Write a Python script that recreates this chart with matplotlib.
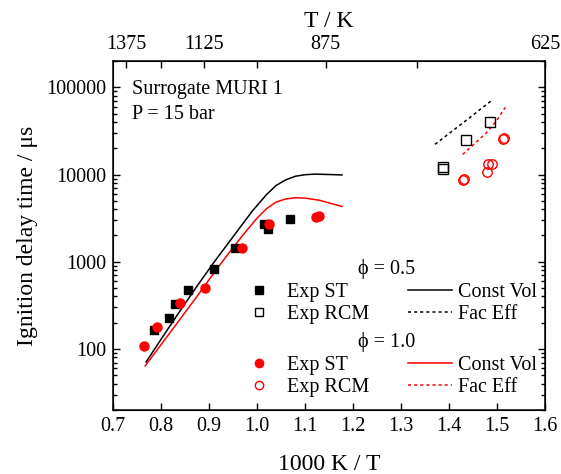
import matplotlib
matplotlib.use("Agg")
import matplotlib.pyplot as plt
from matplotlib.lines import Line2D

plt.rcParams['font.family'] = ['Liberation Serif', 'DejaVu Serif']
plt.rcParams['mathtext.fontset'] = 'stix'

# shock tube data, phi = 0.5  (1000/T, ignition delay in us)
st05_x = [0.786, 0.817, 0.829, 0.856, 0.911, 0.955, 1.015, 1.022, 1.068]
st05_y = [167, 228, 324, 474, 837, 1425, 2740, 2360, 3125]

# shock tube data, phi = 1.0
st10_x = [0.765, 0.792, 0.840, 0.892, 0.968, 1.026, 1.123, 1.130]
st10_y = [107, 181, 336, 497, 1425, 2700, 3270, 3330]

# RCM data
rcm05_x = [1.387, 1.388, 1.435, 1.486]
rcm05_y = [11500, 12200, 25100, 40500]
rcm10_x = [1.429, 1.432, 1.479, 1.482, 1.489, 1.513, 1.514]
rcm10_y = [8600, 8850, 10800, 13200, 13300, 25300, 26200]

# constant volume simulations
cv05_x = [0.769, 0.80, 0.84, 0.88, 0.91, 0.95, 0.99, 1.02, 1.04, 1.06, 1.08,
          1.10, 1.12, 1.15, 1.177]
cv05_y = [71, 129, 275, 575, 980, 1930, 3800, 5900, 7500, 8700, 9550,
          9950, 10100, 10000, 9890]
cv10_x = [0.767, 0.80, 0.84, 0.88, 0.91, 0.94, 0.97, 1.00, 1.02, 1.04, 1.06,
          1.08, 1.10, 1.13, 1.15, 1.177]
cv10_y = [64, 112, 221, 437, 741, 1230, 2000, 3160, 4070, 4840, 5250,
          5410, 5370, 5070, 4730, 4300]

# facility effect simulations
fe05_x = [1.371, 1.430, 1.490]
fe05_y = [22200, 39450, 71300]
fe10_x = [1.4285, 1.454, 1.4785, 1.499, 1.517]
fe10_y = [17000, 22750, 30270, 41230, 58700]

top_temps = [1375, 1250, 1125, 1000, 875, 750, 625]
top_labels = ['1375', '', '1125', '', '875', '', '625']

fs = 14.5
dot = (0, (2.0, 2.0))

fig = plt.figure(figsize=(5.61, 4.74), dpi=100)
ax = fig.add_axes([113 / 561, 1 - 410 / 474, 432 / 561, 349 / 474])

ax.plot(cv05_x, cv05_y, color='black', lw=1.1)
ax.plot(cv10_x, cv10_y, color='red', lw=1.1)
ax.plot(fe05_x, fe05_y, color='black', lw=1.1, linestyle=dot)
ax.plot(fe10_x, fe10_y, color='red', lw=1.1, linestyle=dot)

ax.plot(st05_x, st05_y, 's', color='black', ms=6)
ax.plot(st10_x, st10_y, 'o', color='red', ms=6.5)
ax.plot(rcm05_x, rcm05_y, 's', mfc='none', mec='black', ms=6.5, mew=1.0)
ax.plot(rcm10_x, rcm10_y, 'o', mfc='none', mec='red', ms=6.8, mew=1.0)

ax.set_yscale('log')
ax.set_xlim(0.7, 1.6)
ax.set_ylim(20, 2e5)
ax.set_xticks([0.7, 0.8, 0.9, 1.0, 1.1, 1.2, 1.3, 1.4, 1.5, 1.6])
ax.set_xticklabels(['0.7', '0.8', '0.9', '1.0', '1.1', '1.2', '1.3', '1.4', '1.5', '1.6'])
ax.set_yticks([100, 1000, 10000, 100000])
ax.set_yticklabels(['100', '1000', '10000', '100000'])

ax.tick_params(which='both', direction='in', right=True, labelsize=fs, width=1.0)
ax.tick_params(which='major', length=5, pad=5)
ax.tick_params(which='minor', length=3)
ax.tick_params(axis='x', top=False)
for s in ax.spines.values():
    s.set_linewidth(1.1)

ax.set_xlabel('1000 K / T', fontsize=17, labelpad=13)
ax.set_ylabel('Ignition delay time / μs', fontsize=17, labelpad=6)

# temperature scale on top
ax_t = ax.twiny()
ax_t.set_xlim(ax.get_xlim())
ax_t.set_xticks([1000 / t for t in top_temps])
ax_t.set_xticklabels(top_labels)
ax_t.tick_params(direction='in', length=5, width=1.0, labelsize=fs, pad=5)
ax_t.set_xlabel('T / K', fontsize=17, labelpad=6)

ax.text(0.043, 0.917, 'Surrogate MURI 1', transform=ax.transAxes, fontsize=fs, va='center')
ax.text(0.043, 0.848, 'P = 15 bar', transform=ax.transAxes, fontsize=fs, va='center')

# legends, one per equivalence ratio
def group_legend(color, marker, title, y):
    h = [Line2D([], [], ls='none', marker=marker, color=color, ms=6),
         Line2D([], [], ls='none', marker=marker, mfc='none', mec=color, ms=6, mew=1.0),
         Line2D([], [], color=color, lw=1.1),
         Line2D([], [], color=color, lw=1.1, linestyle=dot)]
    labels = ['Exp ST', 'Exp RCM', 'Const Vol', 'Fac Eff']
    leg = ax.legend(h, labels, ncol=2, title=title, title_fontsize=fs, fontsize=fs,
                    frameon=False, loc='center', bbox_to_anchor=(0.634, y),
                    handlelength=2.2, handletextpad=0.3, columnspacing=1.9,
                    labelspacing=0.17, borderpad=0, borderaxespad=0)
    return leg

leg1 = group_legend('black', 's', 'ϕ = 0.5', 0.339)
ax.add_artist(leg1)
leg2 = group_legend('red', 'o', 'ϕ = 1.0', 0.13)

fig.savefig('out.png', dpi=100)
